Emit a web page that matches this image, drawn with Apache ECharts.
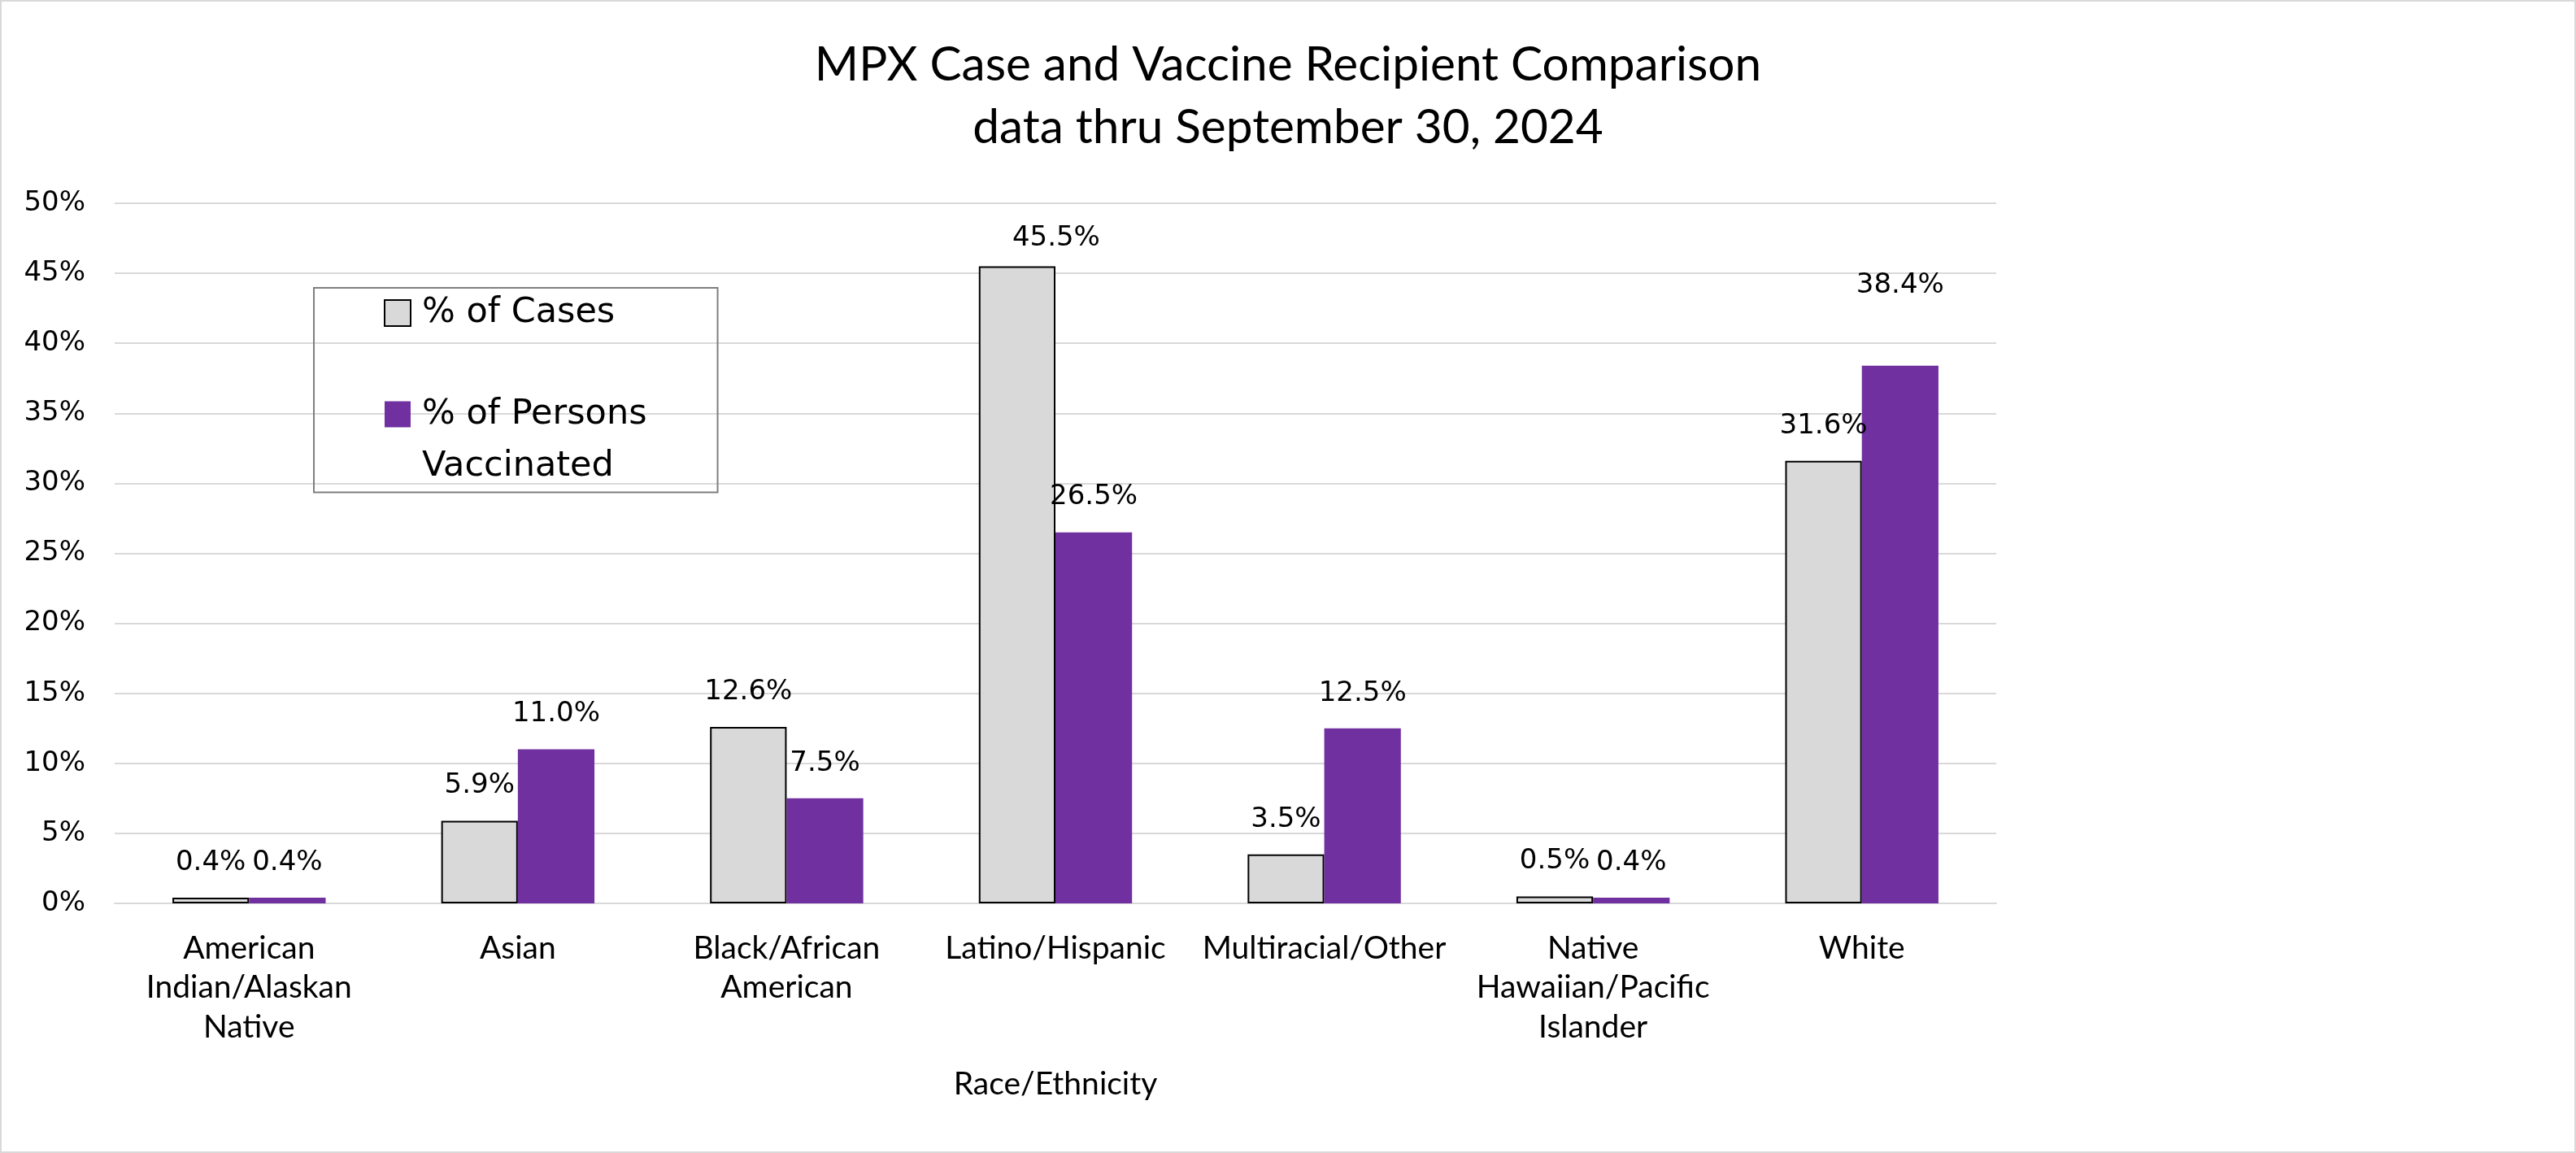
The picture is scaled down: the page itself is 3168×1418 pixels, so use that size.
<!DOCTYPE html>
<html>
<head>
<meta charset="utf-8">
<script src="https://cdn.jsdelivr.net/npm/echarts@6/dist/echarts.min.js"></script>
<style>
html,body{margin:0;padding:0;background:#fff;}
#chart{width:3168px;height:1418px;}
</style>
</head>
<body>
<div id="chart"></div>
<script>
const titleLines = ['MPX Case and Vaccine Recipient Comparison', 'data thru September 30, 2024'];
const categories = [
  'American\nIndian/Alaskan\nNative',
  'Asian',
  'Black/African\nAmerican',
  'Latino/Hispanic',
  'Multiracial/Other',
  'Native\nHawaiian/Pacific\nIslander',
  'White'
];
const seriesNames = ['% of Cases', '% of Persons\nVaccinated'];
const casesPct = [0.4, 5.9, 12.6, 45.5, 3.5, 0.5, 31.6];
const vaccinatedPct = [0.4, 11.0, 7.5, 26.5, 12.5, 0.4, 38.4];
const xAxisTitle = 'Race/Ethnicity';
const yMax = 50;
const yStep = 5;

const labelFont = 'DejaVu Sans';
const humanFont = 'Lato';

// label placement tweaks (style only) keyed by category index
const casesLabelTweak = {3: [48, 9]};
const vaccLabelTweak = {6: [0, -56]};

function withTweaks(values, tweaks) {
  return values.map((v, i) => tweaks[i] ? {value: v, label: {offset: tweaks[i]}} : v);
}

const chart = echarts.init(document.getElementById('chart'), null, {renderer: 'canvas'});

const barLabel = {
  show: true,
  position: 'top',
  distance: 23,
  fontFamily: labelFont,
  fontSize: 34,
  lineHeight: 40,
  color: '#000',
  formatter: p => p.value.toFixed(1) + '%'
};

chart.setOption({
  backgroundColor: '#fff',
  animation: false,
  title: {
    text: titleLines.join('\n'),
    left: 'center',
    top: 42,
    padding: 0,
    textStyle: {
      fontFamily: humanFont,
      fontSize: 58.5,
      fontWeight: 'normal',
      lineHeight: 77,
      color: '#000'
    }
  },
  legend: {
    orient: 'vertical',
    left: 386,
    top: 354,
    padding: [7, 87, 0, 86],
    itemGap: 4.5,
    itemWidth: 32,
    itemHeight: 32,
    borderColor: '#7f7f7f',
    borderWidth: 2,
    icon: 'rect',
    // multi-line entry: a blank first line keeps the icon level with "% of Persons"
    formatter: name => name.indexOf('\n') >= 0 ? ' \n' + name : name,
    textStyle: {
      fontFamily: labelFont,
      fontSize: 43,
      lineHeight: 64,
      color: '#000',
      padding: [0, 0, 0, 9]
    },
    data: [
      {name: seriesNames[0], textStyle: {lineHeight: 48}},
      {name: seriesNames[1]}
    ]
  },
  grid: {
    left: 141,
    right: 713,
    top: 250,
    bottom: 307,
    containLabel: false
  },
  xAxis: {
    type: 'category',
    data: categories,
    name: xAxisTitle,
    nameLocation: 'middle',
    nameGap: 198,
    nameTextStyle: {
      fontFamily: humanFont,
      fontSize: 39,
      lineHeight: 48,
      color: '#000'
    },
    axisLine: {show: true, lineStyle: {color: '#d9d9d9', width: 2}},
    axisTick: {show: false},
    axisLabel: {
      interval: 0,
      margin: 31,
      fontFamily: humanFont,
      fontSize: 39,
      lineHeight: 48.5,
      color: '#000'
    }
  },
  yAxis: {
    type: 'value',
    min: 0,
    max: yMax,
    interval: yStep,
    axisLine: {show: false},
    axisTick: {show: false},
    splitLine: {show: true, lineStyle: {color: '#d9d9d9', width: 2}},
    axisLabel: {
      margin: 36,
      fontFamily: labelFont,
      fontSize: 34,
      color: '#000',
      formatter: '{value}%'
    }
  },
  series: [
    {
      name: seriesNames[0],
      type: 'bar',
      data: withTweaks(casesPct, casesLabelTweak),
      barGap: '0%',
      barCategoryGap: '43%',
      itemStyle: {color: '#d9d9d9', borderColor: '#000', borderWidth: 2},
      label: barLabel
    },
    {
      name: seriesNames[1],
      type: 'bar',
      data: withTweaks(vaccinatedPct, vaccLabelTweak),
      barGap: '0%',
      barCategoryGap: '43%',
      itemStyle: {color: '#7030a0'},
      label: barLabel
    }
  ],
  graphic: [{
    type: 'rect',
    silent: true,
    shape: {x: 1, y: 1, width: 3166, height: 1416},
    style: {fill: 'none', stroke: '#d9d9d9', lineWidth: 2}
  }]
});
</script>
</body>
</html>
